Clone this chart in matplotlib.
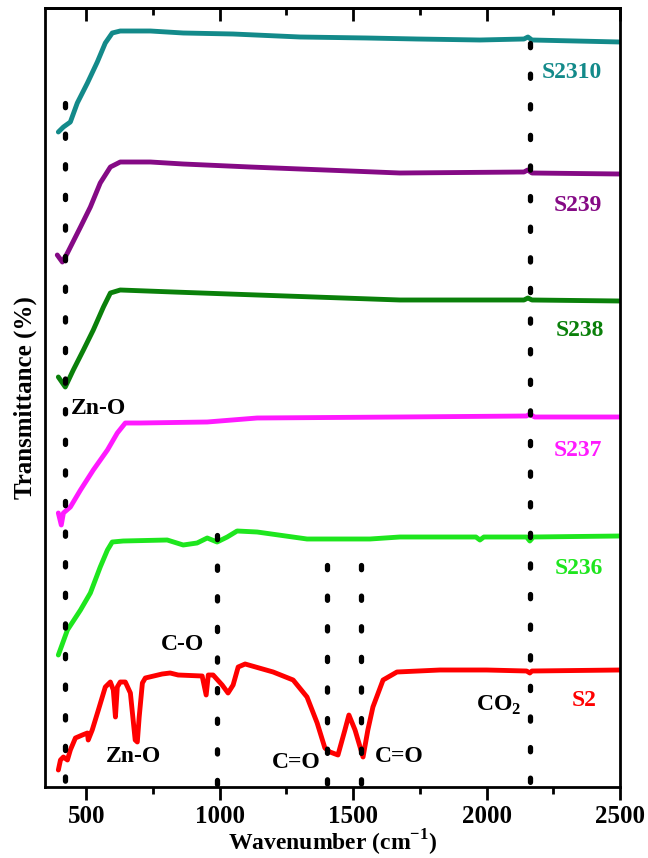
import matplotlib
matplotlib.use('Agg')
import matplotlib.pyplot as plt
from matplotlib.ticker import MultipleLocator

plt.rcParams['font.family'] = ['Liberation Serif', 'DejaVu Serif']
plt.rcParams['font.weight'] = 'bold'
plt.rcParams['mathtext.fontset'] = 'custom'
plt.rcParams['mathtext.rm'] = 'Liberation Serif:bold'
plt.rcParams['mathtext.bf'] = 'Liberation Serif:bold'

# FTIR spectra, transmittance in arbitrary (stacked) units
wn_s2310 = [395, 414, 440, 466, 504, 541, 571, 597, 627, 691, 740, 863, 1050, 1301, 1552, 1739, 1975, 2140, 2155, 2170, 2500]
t_s2310 = [655, 660, 665, 684, 704, 725, 744, 754, 756, 756, 756, 754, 753, 750, 749, 748, 747, 748, 750, 747, 745]

wn_s239 = [391, 410, 429, 478, 515, 552, 590, 627, 740, 863, 1114, 1675, 2140, 2154, 2170, 2500]
t_s239 = [532, 525, 534, 560, 580, 604, 620, 625, 625, 623, 620, 614, 615, 617, 614, 613]

wn_s238 = [395, 421, 451, 489, 526, 564, 590, 627, 826, 1140, 1675, 2140, 2155, 2170, 2500]
t_s238 = [410, 400, 417, 437, 457, 480, 494, 497, 495, 492, 487, 487, 489, 487, 486]

wn_s237 = [395, 406, 414, 440, 478, 526, 579, 616, 646, 702, 953, 1140, 1675, 2150, 2162, 2180, 2500]
t_s237 = [274, 262, 274, 280, 297, 317, 337, 354, 364, 364, 365, 369, 370, 371, 373, 370, 370]

wn_s236 = [395, 429, 478, 515, 552, 579, 597, 638, 803, 863, 915, 953, 990, 1028, 1065, 1140, 1327, 1563,
           1675, 1960, 1975, 1990, 2150, 2162, 2175, 2500]
t_s236 = [132, 157, 177, 194, 220, 237, 245, 246, 247, 242, 244, 249, 245, 250, 256, 255, 248, 248,
          250, 250, 247, 250, 250, 246, 250, 251]

wn_s2 = [395, 403, 414, 429, 440, 459, 485, 504, 507, 522, 545, 571, 590, 601, 609, 616, 627, 646, 665,
         683, 691, 698, 710, 721, 784, 814, 844, 934, 949, 957, 975, 1009, 1031, 1050, 1069, 1095, 1200,
         1275, 1327, 1365, 1394, 1413, 1443, 1469, 1484, 1507, 1537, 1555, 1574, 1612, 1664, 1825, 2000,
         2150, 2162, 2170, 2500]
t_s2 = [17, 27, 30, 27, 37, 49, 52, 54, 47, 57, 77, 100, 105, 97, 70, 100, 105, 105, 94,
        47, 45, 70, 104, 109, 113, 114, 112, 111, 92, 112, 112, 102, 94, 102, 120, 123, 115,
        107, 90, 64, 39, 35, 32, 57, 72, 57, 30, 57, 80, 107, 115, 117, 117,
        116, 114, 116, 117]

names = ['S2310', 'S239', 'S238', 'S237', 'S236', 'S2']
colors = ['#138a8a', '#850a85', '#0a800a', '#ff1aff', '#1ee61e', '#ff0000']
spectra = [(wn_s2310, t_s2310), (wn_s239, t_s239), (wn_s238, t_s238),
           (wn_s237, t_s237), (wn_s236, t_s236), (wn_s2, t_s2)]

# marker lines: wavenumber and top of the dotted line
mark_wn = [420, 990, 1402, 1530, 2162]
mark_top = [684, 252, 222, 222, 744]

fig = plt.figure(figsize=(6.48, 8.58), dpi=100)
ax = fig.add_axes([45 / 648, 1 - 787 / 858, 575 / 648, 779 / 858])

for (w, t), c in zip(spectra, colors):
    ax.plot(w, t, color=c, lw=3.5, solid_capstyle='round', solid_joinstyle='round')

for w, top in zip(mark_wn, mark_top):
    ax.plot([w, w], [top, -5], color='black', lw=3.8, linestyle=(0, (0.8, 5.0)),
            dash_capstyle='round', zorder=5)

# sample labels
lab_pos = [(2319, 715), (2341, 582), (2349, 457), (2341, 337), (2345, 219), (2367, 87)]
for n, c, (x, y) in zip(names, colors, lab_pos):
    ax.text(x, y, n, color=c, fontsize=17, fontweight='bold', ha='center', va='center')

# band assignments
ax.text(545, 379, 'Zn-O', fontsize=17, fontweight='bold', ha='center', va='center')
ax.text(676, 30, 'Zn-O', fontsize=17, fontweight='bold', ha='center', va='center')
ax.text(859, 142, 'C-O', fontsize=17, fontweight='bold', ha='center', va='center')
ax.text(1286, 24, 'C=O', fontsize=17, fontweight='bold', ha='center', va='center')
ax.text(1671, 30, 'C=O', fontsize=17, fontweight='bold', ha='center', va='center')
ax.text(2046, 76, r'CO$_{\mathbf{2}}$', fontsize=17, fontweight='bold', ha='center', va='baseline')

ax.set_xlim(345, 2500)
ax.set_ylim(0, 779)
ax.set_yticks([])
ax.set_xticks([500, 1000, 1500, 2000, 2500])
ax.xaxis.set_minor_locator(MultipleLocator(250))
ax.tick_params(axis='x', which='major', direction='out', length=9, width=2, labelsize=18, pad=4)
ax.tick_params(axis='x', which='minor', direction='out', length=5, width=2)
for s in ax.spines.values():
    s.set_linewidth(2)

top = ax.secondary_xaxis('top')
top.set_xticks([500, 1000, 1500, 2000, 2500])
top.xaxis.set_minor_locator(MultipleLocator(250))
top.tick_params(axis='x', which='major', direction='in', length=9, width=2, labeltop=False)
top.tick_params(axis='x', which='minor', direction='in', length=5, width=2)
top.spines['top'].set_linewidth(2)

ax.set_xlabel(r'Wavenumber (cm$^{\mathbf{-1}}$)', fontsize=17, fontweight='bold', labelpad=0)
ax.set_ylabel('Transmittance (%)', fontsize=18, fontweight='bold', labelpad=6)

fig.savefig('out.png', dpi=100)
